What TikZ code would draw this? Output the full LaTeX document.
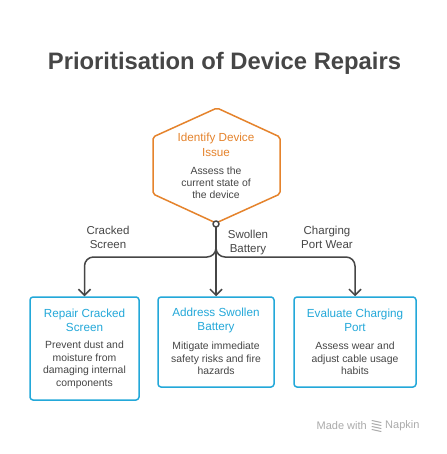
\documentclass[tikz,border=0pt]{standalone}
\usepackage{fontspec}
\setmainfont{Liberation Sans}
\usetikzlibrary{positioning,arrows.meta}
\definecolor{hexorange}{HTML}{E5832C}
\definecolor{boxblue}{HTML}{23A8D9}
\definecolor{inkgray}{HTML}{464646}
\definecolor{footgray}{HTML}{ABABAB}
\tikzset{
	repairbox/.style={draw=boxblue, line width=1.5pt, rounded corners=3pt, fill=white, inner sep=0pt},
	boxhead/.style={text=boxblue, align=center, font=\fontsize{11.7}{14}\selectfont, inner sep=0pt},
	boxbody/.style={text=inkgray, align=center, font=\fontsize{10.4}{12.6}\selectfont, inner sep=0pt},
	branchlabel/.style={text=inkgray, align=center, font=\fontsize{11.5}{14}\selectfont, inner sep=0pt},
	branch/.style={draw=inkgray, line width=1.5pt, rounded corners=9pt, ->}
}
\begin{document}
\begin{tikzpicture}[x=1pt, y=-1pt, line join=round, line cap=round, >={Straight Barb[length=6pt,width=12pt]}]
		\useasboundingbox[fill=white] (0,0) rectangle (446,454);
		\node[text=inkgray, font=\fontsize{23.8}{26}\selectfont\bfseries] (title) at (224.5,63) {Prioritisation of Device Repairs};
		% hexagon
		\draw[hexorange, line width=1.5pt, rounded corners=2pt] (217,108) -- (280,137) -- (280,194) -- (216,223) -- (153,194) -- (153,137) -- cycle;
		\node[text=hexorange, align=center, font=\fontsize{11.7}{15}\selectfont, inner sep=0pt] (issue) at (216,144.5) {Identify Device\\Issue};
		\node[boxbody, font=\fontsize{10.4}{12}\selectfont] (issuetxt) at (216,183) {Assess the\\current state of\\the device};
		\node[circle, draw=inkgray, fill=white, line width=1.5pt, minimum size=6pt, inner sep=0pt] (jn) at (216,224) {};
		% boxes
		\node[repairbox, minimum width=109pt, minimum height=103pt] (rc) at (84.5,348.5) {};
		\node[repairbox, minimum width=116pt, minimum height=90pt] (sb) at (216,342) {};
		\node[repairbox, minimum width=122pt, minimum height=90pt] (cp) at (355,342) {};
		\node[boxhead] (rchead) at (84.5,320) {Repair Cracked\\Screen};
		\node[boxbody] (rcbody) at (84.5,365) {Prevent dust and\\moisture from\\damaging internal\\components};
		\node[boxhead] (sbhead) at (216,320) {Address Swollen\\Battery};
		\node[boxbody] (sbbody) at (216,358.5) {Mitigate immediate\\safety risks and fire\\hazards};
		\node[boxhead] (cphead) at (355,320) {Evaluate Charging\\Port};
		\node[boxbody] (cpbody) at (355,358.5) {Assess wear and\\adjust cable usage\\habits};
		% branches
		\coordinate (split) at (216,257);
		\draw[branch] (jn.south) -- (split) -| (rc.north);
		\draw[branch] (jn.south) -- (split) -| (cp.north);
		\draw[branch] (jn.south) -- (sb.north);
		\node[branchlabel] (crlabel) at (108,237) {Cracked\\Screen};
		\node[branchlabel] (swlabel) at (248,243) {Swollen\\Battery};
		\node[branchlabel] (chlabel) at (327,237) {Charging\\Port Wear};
		% footer
		\node[text=footgray, font=\fontsize{11}{13}\selectfont, inner sep=0pt, anchor=east] (made) at (367,426) {Made with};
		\node[text=footgray, font=\fontsize{11}{13}\selectfont, inner sep=0pt, anchor=west] (napkin) at (385,426) {Napkin};
		\foreach \k in {0,1,2,3}
			\draw[footgray, line width=1pt] (372,420.5+3*\k) -- (381,422.5+3*\k);
\end{tikzpicture}
\end{document}
